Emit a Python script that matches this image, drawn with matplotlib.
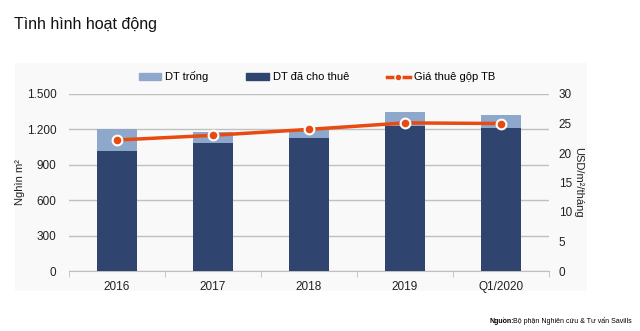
import numpy as np
import matplotlib.pyplot as plt
from matplotlib.patches import Rectangle
from matplotlib.lines import Line2D

plt.rcParams['font.family'] = ['Liberation Sans', 'DejaVu Sans']

# Daten
categories = ["2016", "2017", "2018", "2019", "Q1/2020"]
leased = [1020, 1082, 1125, 1229, 1214]        # DT đã cho thuê
total = [1200, 1175, 1205, 1348, 1325]          # Gesamtfläche
vacant = [t - l for t, l in zip(total, leased)]  # DT trống
rent = [22.2, 23.0, 24.0, 25.1, 25.0]            # Giá thuê gộp TB

c_light = "#8ea8cc"
c_dark = "#2f4570"
c_line = "#e84a10"
c_grid = "#c0c0c0"

fig = plt.figure(figsize=(6.4, 3.31), dpi=100)
fig.patch.set_facecolor("white")
# leicht grauer Hintergrund-Kasten
fig.patches.append(Rectangle((15 / 640, 1 - 291 / 331), 572 / 640, 228 / 331,
                             transform=fig.transFigure, facecolor="#f9f9f9",
                             edgecolor="none", zorder=-5))

ax = fig.add_axes([69 / 640, 1 - 271 / 331, 480 / 640, 177 / 331])
ax.set_facecolor("none")
x = np.arange(len(categories))
w = 0.41
ax.bar(x, leased, w, color=c_dark, zorder=3)
ax.bar(x, vacant, w, bottom=leased, color=c_light, zorder=3)

ax.set_xlim(-0.5, len(categories) - 0.5)
ax.set_ylim(0, 1500)
ax.set_yticks(np.arange(0, 1501, 300))
ax.set_yticklabels(["0", "300", "600", "900", "1.200", "1.500"])
ax.yaxis.grid(True, color=c_grid, lw=1, zorder=0)
ax.set_axisbelow(True)
for s in ["top", "left", "right"]:
    ax.spines[s].set_visible(False)
ax.spines["bottom"].set_color(c_grid)
ax.set_xticks(x)
ax.set_xticklabels(categories)
ax.set_xticks(np.arange(-0.5, len(categories)), minor=True)
ax.tick_params(axis="x", which="major", length=0, pad=7, labelsize=8.5, colors="#222222")
ax.tick_params(axis="x", which="minor", length=4, color=c_grid, direction="out")
ax.tick_params(axis="y", length=0, pad=9, labelsize=8.5, colors="#222222")
ax.set_ylabel("Nghìn m²", fontsize=8, color="#222222", labelpad=1)

ax2 = ax.twinx()
ax2.plot(x, rent, color=c_line, lw=2.5, marker="o", ms=7,
         markerfacecolor=c_line, markeredgecolor="white", markeredgewidth=1.5, zorder=5)
ax2.set_ylim(0, 30)
ax2.set_yticks(np.arange(0, 31, 5))
for s in ["top", "left", "right", "bottom"]:
    ax2.spines[s].set_visible(False)
ax2.tick_params(axis="y", length=0, pad=7, labelsize=8.5, colors="#222222")
ax2.set_ylabel("USD/m²/tháng", fontsize=8, color="#222222", rotation=-90, labelpad=8)

# Legende
handles = [
    Rectangle((0, 0), 1, 1, color=c_light),
    Rectangle((0, 0), 1, 1, color=c_dark),
    Line2D([], [], color=c_line, lw=2.5, marker="o", ms=5,
           markerfacecolor=c_line, markeredgecolor="white"),
]
fig.legend(handles, ["DT trống", "DT đã cho thuê", "Giá thuê gộp TB"],
           loc="center", bbox_to_anchor=(317 / 640, 1 - 77 / 331), ncol=3, frameon=False,
           fontsize=8, handlelength=2.0, handleheight=0.5, columnspacing=3.4,
           handletextpad=0.4)

fig.text(14 / 640, 1 - 24 / 331, "Tình hình hoạt động", fontsize=11.5,
         va="center", ha="left", color="#111111")
fig.text(490 / 640, 1 - 321 / 331, "Nguồn:", fontsize=5.0, fontweight="bold",
         va="center", ha="left")
fig.text(513 / 640, 1 - 321 / 331, "Bộ phận Nghiên cứu & Tư vấn Savills",
         fontsize=5.0, va="center", ha="left")

fig.savefig("out.png", dpi=100)
